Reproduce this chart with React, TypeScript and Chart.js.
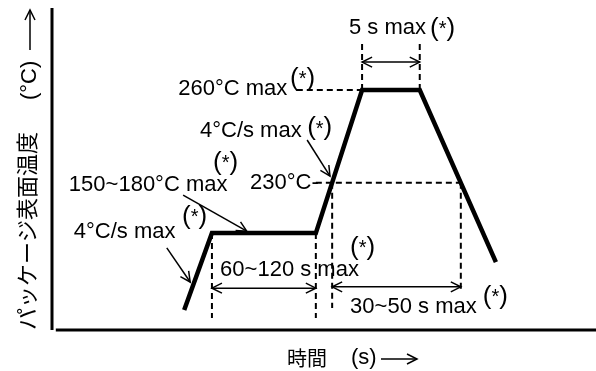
import React, { useEffect, useRef } from "react";
import { Chart, registerables } from "chart.js";

Chart.register(...registerables);

// Schematic reflow profile (abstract units: time 0-100, temperature 0-100)
const profileTime = [24.3, 29.4, 48.5, 57.0, 67.6, 81.6];
const profileTemp = [6.2, 30.1, 30.1, 74.5, 74.5, 21.1];

// Key temperature levels (schematic)
const levelPeak = 74.5; // 260°C max
const level230 = 45.7; // 230°C
const levelSoak = 30.1; // 150~180°C

// Key times (schematic)
const tSoakStart = 29.4;
const tSoakEnd = 48.5;
const tRise230 = 51.5;
const tPeakStart = 57.0;
const tPeakEnd = 67.6;
const tFall230 = 75.15;

// Guide extents
const guideVLowTimes = [tSoakStart, tSoakEnd, tRise230, tFall230];
const guideVLowFrom = [levelSoak, levelSoak, level230, level230];
const guideVLowTo = [3.7, 3.7, 6.8, 12.4];
const guidePeakTop = 89.1;
const guideHPeakFrom = 45.0;
const guideH230From = 48.5;

// Labels
const mainLabels = ["5 s max", "260°C max", "4°C/s max", "150~180°C max", "230°C-", "4°C/s max", "60~120 s max", "30~50 s max"];
const mainLabelX = [54.6, 23.2, 27.2, 3.1, 36.4, 4.0, 30.9, 54.8];
const mainLabelY = [93.8, 75.0, 61.8, 45.0, 45.7, 30.4, 18.6, 7.1];
const noteX = [69.5, 43.75, 46.9, 29.6, 23.9, 54.8, 79.2];
const noteY = [93.6, 78.1, 62.7, 51.9, 35.1, 25.5, 10.4];

// Pointer arrows
const pointerFromX = [21.1, 24.1, 46.9];
const pointerFromY = [25.5, 41.9, 59.0];
const pointerToX = [25.4, 35.8, 51.1];
const pointerToY = [14.9, 30.7, 47.8];

// Double arrows
const spanFrom = [tPeakStart, tSoakStart, tRise230];
const spanTo = [tPeakEnd, tSoakEnd, tFall230];
const spanLevel = [83.2, 13.0, 13.4];

const yTitleJa = "パッケージ表面温度";
const yTitleUnit = "(°C)";
const xTitleJa = "時間";
const xTitleUnit = "(s)";

const LATIN = '"Liberation Sans", Arial, sans-serif';
const CJK = '"Noto Sans CJK JP", sans-serif';

function seg(x1: number, y1: number, x2: number, y2: number) {
  return [{ x: x1, y: y1 }, { x: x2, y: y2 }];
}

function arrowHead(ctx: CanvasRenderingContext2D, fx: number, fy: number, tx: number, ty: number, len = 9, half = 5) {
  const a = Math.atan2(ty - fy, tx - fx);
  const ux = Math.cos(a), uy = Math.sin(a);
  const bx = tx - ux * len, by = ty - uy * len;
  ctx.beginPath();
  ctx.moveTo(bx - uy * half, by + ux * half);
  ctx.lineTo(tx, ty);
  ctx.lineTo(bx + uy * half, by - ux * half);
  ctx.stroke();
}

function drawNote(ctx: CanvasRenderingContext2D, x: number, y: number) {
  ctx.font = `26px ${LATIN}`;
  ctx.fillText("(", x, y);
  const w1 = ctx.measureText("(").width;
  ctx.font = `20px ${LATIN}`;
  ctx.fillText("*", x + w1, y + 1);
  const w2 = ctx.measureText("*").width;
  ctx.font = `26px ${LATIN}`;
  ctx.fillText(")", x + w1 + w2, y);
}

const annotPlugin = {
  id: "annot",
  afterDatasetsDraw(chart: any) {
    const ctx: CanvasRenderingContext2D = chart.ctx;
    const xs = chart.scales.x, ys = chart.scales.y;
    const X = (v: number) => xs.getPixelForValue(v);
    const Y = (v: number) => ys.getPixelForValue(v);
    ctx.save();
    ctx.fillStyle = "#000";
    ctx.strokeStyle = "#000";
    ctx.lineCap = "butt";

    // axes
    ctx.lineWidth = 3;
    ctx.beginPath();
    ctx.moveTo(X(0), Y(100));
    ctx.lineTo(X(0), Y(0));
    ctx.stroke();
    ctx.beginPath();
    ctx.moveTo(X(0.7), Y(0));
    ctx.lineTo(X(100), Y(0));
    ctx.stroke();

    // main labels
    ctx.textBaseline = "middle";
    ctx.textAlign = "left";
    ctx.font = `22px ${LATIN}`;
    mainLabels.forEach((t, i) => ctx.fillText(t, X(mainLabelX[i]), Y(mainLabelY[i])));
    noteX.forEach((x, i) => drawNote(ctx, X(x), Y(noteY[i])));

    // pointer arrows
    ctx.lineWidth = 1.5;
    pointerFromX.forEach((fx, i) => {
      const x1 = X(fx), y1 = Y(pointerFromY[i]), x2 = X(pointerToX[i]), y2 = Y(pointerToY[i]);
      ctx.beginPath();
      ctx.moveTo(x1, y1);
      ctx.lineTo(x2, y2);
      ctx.stroke();
      arrowHead(ctx, x1, y1, x2, y2, 10, 5);
    });

    // double arrows
    spanFrom.forEach((f, i) => {
      const x1 = X(f), x2 = X(spanTo[i]), y = Y(spanLevel[i]);
      ctx.beginPath();
      ctx.moveTo(x1, y);
      ctx.lineTo(x2, y);
      ctx.stroke();
      arrowHead(ctx, x2, y, x1, y, 10, 5);
      arrowHead(ctx, x1, y, x2, y, 10, 5);
    });

    // y title (rotated)
    const ca = chart.chartArea;
    ctx.save();
    ctx.translate(ca.left - 25, ca.bottom);
    ctx.rotate(-Math.PI / 2);
    ctx.font = `22px ${CJK}`;
    ctx.fillText(yTitleJa, 0, 0);
    ctx.font = `22px ${LATIN}`;
    ctx.fillText(yTitleUnit, 230, 3);
    ctx.lineWidth = 1.5;
    ctx.beginPath();
    ctx.moveTo(280, 3);
    ctx.lineTo(320, 3);
    ctx.stroke();
    arrowHead(ctx, 280, 3, 320, 3, 10, 5);
    ctx.restore();

    // x title
    const ty = ca.bottom + 28;
    ctx.font = `20px ${CJK}`;
    ctx.fillText(xTitleJa, 287, ty);
    ctx.font = `22px ${LATIN}`;
    ctx.fillText(xTitleUnit, 351, ty);
    ctx.lineWidth = 1.5;
    ctx.beginPath();
    ctx.moveTo(381, ty + 1);
    ctx.lineTo(417, ty + 1);
    ctx.stroke();
    arrowHead(ctx, 381, ty + 1, 417, ty + 1, 10, 5);

    ctx.restore();
  },
};

export default function App() {
  const ref = useRef<HTMLCanvasElement>(null);
  useEffect(() => {
    if (!ref.current) return;
    const dashed = (data: any[]) => ({
      data,
      borderColor: "#000",
      borderWidth: 2,
      borderDash: [6, 4],
      pointRadius: 0,
      fill: false,
      tension: 0,
    });
    const guides: any[] = [];
    guideVLowTimes.forEach((t, i) => guides.push(dashed(seg(t, guideVLowFrom[i], t, guideVLowTo[i]))));
    guides.push(dashed(seg(tPeakStart, levelPeak, tPeakStart, guidePeakTop)));
    guides.push(dashed(seg(tPeakEnd, levelPeak, tPeakEnd, guidePeakTop)));
    guides.push(dashed(seg(guideHPeakFrom, levelPeak, tPeakStart, levelPeak)));
    guides.push(dashed(seg(guideH230From, level230, tFall230, level230)));

    const chart = new Chart(ref.current, {
      type: "line",
      data: {
        datasets: [
          {
            data: profileTime.map((t, i) => ({ x: t, y: profileTemp[i] })),
            borderColor: "#000",
            borderWidth: 4.5,
            pointRadius: 0,
            fill: false,
            tension: 0,
            borderJoinStyle: "miter",
          } as any,
          ...guides,
        ],
      },
      options: {
        animation: false,
        responsive: false,
        layout: { padding: { left: 52, right: 0, top: 8, bottom: 41 } },
        plugins: { legend: { display: false }, tooltip: { enabled: false } },
        scales: {
          x: { type: "linear", min: 0, max: 100, display: false },
          y: { type: "linear", min: 0, max: 100, display: false },
        },
      },
      plugins: [annotPlugin],
    });
    return () => chart.destroy();
  }, []);
  return (
    <div style={{ position: "absolute", left: 0, top: 0, width: 596, height: 371, background: "#fff" }}>
      <canvas ref={ref} width={596} height={371} style={{ display: "block" }} />
    </div>
  );
}
